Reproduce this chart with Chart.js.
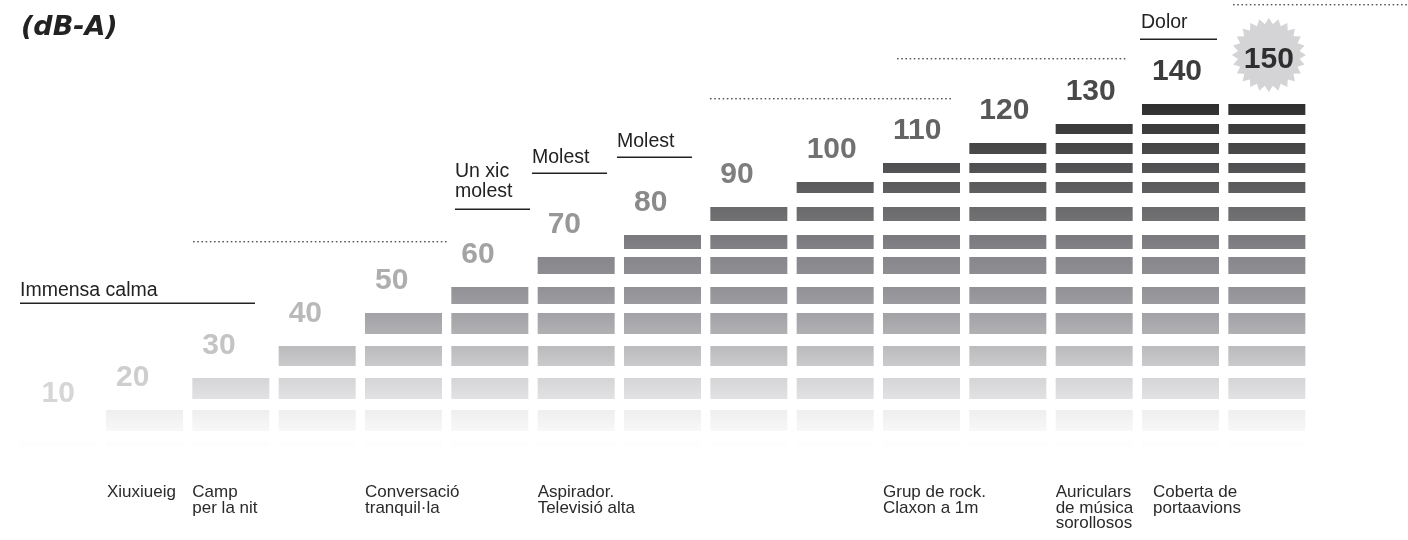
<!DOCTYPE html>
<html><head><meta charset="utf-8">
<script src="https://cdn.jsdelivr.net/npm/chart.js@4"></script>
<style>html,body{margin:0;padding:0;background:#fff}canvas{display:block}</style>
</head><body>
<canvas id="c" width="1408" height="540"></canvas>
<script>
// ---- data ----
const categories = ['10','20','30','40','50','60','70','80','90','100','110','120','130','140','150'];
const decibels = [10,20,30,40,50,60,70,80,90,100,110,120,130,140,150];
const descriptions = ['', ['Xiuxiueig'], ['Camp','per la nit'], '', ['Conversació','tranquil·la'], '',
  ['Aspirador.','Televisió alta'], '', '', '', ['Grup de rock.','Claxon a 1m'], '',
  ['Auriculars','de música','sorollosos'], ['Coberta de','portaavions'], ''];
const STEP = 10;      // dB per segment
const ROWS = 14;      // segments in the meter

// ---- layout (pixel geometry of the meter rows) ----
const AREA_H = 460;
const rowTop    = [442,410,378,346,313,287,257,235,207,182,163,143,124,104];
const rowBottom = [462,431,399,366,334,304,274,249,221,193,173,154,134,115];
const gradStops = [
  [100,'#2b2b2b'],[115,'#353535'],[124,'#393939'],[134,'#3f3f3f'],[143,'#444445'],[154,'#4a4a4b'],
  [163,'#4e4e50'],[173,'#545456'],[182,'#5a5a5c'],[193,'#606062'],[207,'#6a6a6d'],[221,'#727275'],
  [235,'#7a7a7e'],[249,'#828286'],[257,'#88888c'],[274,'#8e8e92'],[287,'#929296'],[304,'#9c9ca0'],
  [313,'#a2a2a6'],[334,'#b1b1b4'],[346,'#bbbbbe'],[366,'#cacacd'],[378,'#d5d5d7'],[399,'#e2e2e4'],
  [410,'#eeeeef'],[431,'#f8f8f8'],[442,'#fdfdfd'],[452,'#ffffff'],[462,'#ffffff']
];

let grad = null;
function barFill(ctx){
  const ch = ctx.chart;
  if (!ch.chartArea) return '#999';
  if (!grad){
    grad = ch.ctx.createLinearGradient(0,0,0,540);
    gradStops.forEach(([y,c]) => grad.addColorStop(y/540, c));
  }
  return grad;
}

const datasets = rowTop.map((t, r) => ({
  data: decibels.map(v => Math.min(Math.floor(v/STEP), ROWS) > r ? [AREA_H - rowBottom[r], AREA_H - t] : null),
  backgroundColor: barFill,
  borderWidth: 0,
  grouped: false,
  barPercentage: 0.892,
  categoryPercentage: 1
}));

function star(c, x, y, n, ro, ri){
  c.beginPath();
  for (let k = 0; k < n*2; k++){
    const a = -Math.PI/2 + k*Math.PI/n;
    const rr = k % 2 ? ri : ro;
    const px = x + rr*Math.cos(a), py = y + rr*Math.sin(a);
    k ? c.lineTo(px,py) : c.moveTo(px,py);
  }
  c.closePath(); c.fill();
}
function dotted(c, x1, x2, y){
  c.fillStyle = '#555';
  for (let x = x1; x < x2; x += 4.2) c.fillRect(x, y, 1.6, 1.4);
}
function rule(c, x1, x2, y){
  c.fillStyle = '#222';
  c.fillRect(x1, y, x2 - x1, 1.5);
}

const overlay = {
  id: 'overlay',
  afterDatasetsDraw(chart){
    const c = chart.ctx;
    c.save();
    c.textBaseline = 'alphabetic';
    // values above columns
    decibels.forEach((v, i) => {
      const n = Math.min(Math.floor(v/STEP), ROWS);
      const el = chart.getDatasetMeta(n-1).data[i];
      const top = Math.min(el.y, el.base);
      const left = el.x - el.width/2;
      const g = Math.round(214 - 168*Math.pow(i/(decibels.length-1), 1.15));
      c.font = 'bold 30px "Liberation Sans", Arial, sans-serif';
      if (v/STEP > ROWS){
        c.fillStyle = '#d4d4d6';
        star(c, el.x + 2, top - 49, 24, 37, 31);
        c.fillStyle = `rgb(${g},${g},${g})`;
        c.textAlign = 'center';
        c.fillText(String(v), el.x + 2, top - 36);
      } else if (i === 0){
        c.fillStyle = `rgb(${g},${g},${g})`;
        c.textAlign = 'center';
        c.fillText(String(v), el.x, top - 40);
      } else {
        c.fillStyle = `rgb(${g},${g},${g})`;
        c.textAlign = 'left';
        c.fillText(String(v), left + 10, top - 24);
      }
      // descriptions under columns
      const d = descriptions[i];
      if (d){
        c.font = '17px "Liberation Sans", Arial, sans-serif';
        c.fillStyle = '#2a2a2a';
        c.textAlign = 'left';
        const dx = left + (i === 1 ? 1 : (i === 13 ? 11 : 0));
        d.forEach((line, k) => c.fillText(line, dx, 497 + k*15.5));
      }
    });
    // annotations
    c.textAlign = 'left';
    c.fillStyle = '#222';
    c.font = '19.5px "Liberation Sans", Arial, sans-serif';
    c.fillText('Immensa calma', 20, 296); rule(c, 20, 255, 302.5);
    dotted(c, 193, 445, 241);
    c.fillStyle = '#222';
    c.fillText('Un xic', 455, 177); c.fillText('molest', 455, 197); rule(c, 455, 530, 208.5);
    c.fillStyle = '#222';
    c.fillText('Molest', 532, 163); rule(c, 532, 607, 172.5);
    c.fillStyle = '#222';
    c.fillText('Molest', 617, 147); rule(c, 617, 692, 156.5);
    dotted(c, 710, 953, 98);
    dotted(c, 897, 1125, 58);
    c.fillStyle = '#222';
    c.fillText('Dolor', 1141, 28); rule(c, 1140, 1217, 38.5);
    dotted(c, 1233, 1406, 4);
    // title fragment
    c.fillStyle = '#222';
    c.font = 'italic bold 27px "DejaVu Sans", sans-serif';
    c.fillText('(dB-A)', 21, 35);
    c.restore();
  }
};

new Chart(document.getElementById('c'), {
  type: 'bar',
  data: { labels: categories, datasets },
  options: {
    responsive: false,
    animation: false,
    devicePixelRatio: 1,
    layout: { padding: { left: 15, right: 98, top: 0, bottom: 540 - AREA_H } },
    plugins: { legend: { display: false }, tooltip: { enabled: false } },
    scales: {
      x: { display: false, grid: { display: false } },
      y: { display: false, min: 0, max: AREA_H }
    }
  },
  plugins: [overlay]
});
</script>
</body></html>
